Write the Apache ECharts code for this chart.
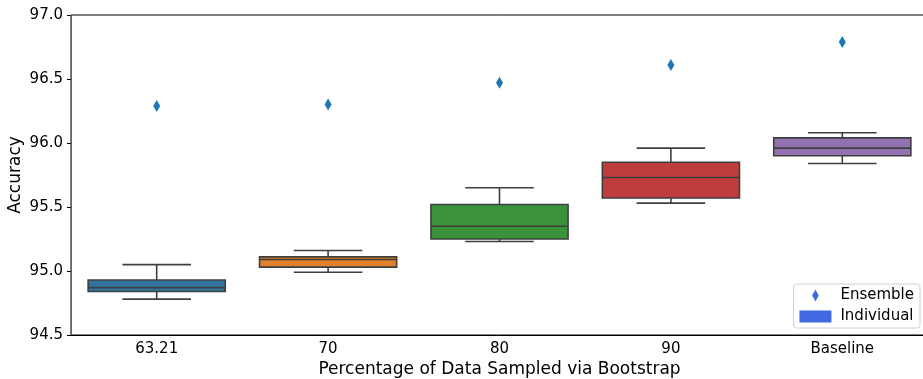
<!DOCTYPE html>
<html>
<head>
<meta charset="utf-8">
<script src="https://cdn.jsdelivr.net/npm/echarts@6/dist/echarts.min.js"></script>
<style>
  html, body { margin: 0; padding: 0; background: #fff; }
  #chart { width: 923px; height: 379px; }
</style>
</head>
<body>
<div id="chart"></div>
<script>
// Sampling fractions on the x axis
const categories = ['63.21', '70', '80', '90', 'Baseline'];

// Individual model accuracies: five-number summaries per category
const whiskerLow  = [94.78, 94.99, 95.23, 95.53, 95.84];
const boxLow      = [94.84, 95.03, 95.25, 95.57, 95.90];
const medians     = [94.87, 95.09, 95.35, 95.73, 95.96];
const boxHigh     = [94.93, 95.11, 95.52, 95.85, 96.04];
const whiskerHigh = [95.05, 95.16, 95.65, 95.96, 96.08];

// Ensemble accuracy per category
const ensemble = [96.29, 96.30, 96.47, 96.61, 96.79];

const yTicks = [94.5, 95.0, 95.5, 96.0, 96.5, 97.0];

const boxColors = ['#3274a1', '#e1812c', '#3a923a', '#c03d3e', '#9372b2'];
const edge = '#3f3f3f';
const legendBlue = '#4169e1';
const diamond = 'path://M0,-1 L0.55,0 L0,1 L-0.55,0 Z';

const boxData = categories.map((c, i) =>
  [i, whiskerLow[i], boxLow[i], medians[i], boxHigh[i], whiskerHigh[i]]);

function renderBox(params, api) {
  const i = api.value(0);
  const band = api.size([1, 0])[0];
  const half = band * 0.4;
  const cap = band * 0.2;
  const cx = api.coord([i, 0])[0];
  const y = k => api.coord([i, api.value(k)])[1];
  const yMin = y(1), yQ1 = y(2), yMed = y(3), yQ3 = y(4), yMax = y(5);
  const line = { stroke: edge, lineWidth: 1.6 };
  return {
    type: 'group',
    children: [
      { type: 'line', shape: { x1: cx, y1: yQ3, x2: cx, y2: yMax }, style: line },
      { type: 'line', shape: { x1: cx, y1: yQ1, x2: cx, y2: yMin }, style: line },
      { type: 'line', shape: { x1: cx - cap, y1: yMax, x2: cx + cap, y2: yMax }, style: line },
      { type: 'line', shape: { x1: cx - cap, y1: yMin, x2: cx + cap, y2: yMin }, style: line },
      { type: 'rect', shape: { x: cx - half, y: yQ3, width: half * 2, height: yQ1 - yQ3 },
        style: { fill: boxColors[i], stroke: edge, lineWidth: 1.6 } },
      { type: 'line', shape: { x1: cx - half, y1: yMed, x2: cx + half, y2: yMed }, style: line }
    ]
  };
}

const font = 'DejaVu Sans';
const chart = echarts.init(document.getElementById('chart'), null, { renderer: 'canvas' });
chart.setOption({
  animation: false,
  textStyle: { fontFamily: font },
  grid: {
    left: 71, top: 15, width: 857, height: 320,
    outerBoundsMode: 'none', containLabel: false,
    show: true, borderColor: '#000', borderWidth: 1
  },
  legend: {
    orient: 'vertical',
    right: 3,
    bottom: 51,
    itemGap: 6,
    itemWidth: 32,
    itemHeight: 12,
    padding: [4, 6, 4, 6],
    borderColor: '#d0d0d0',
    borderWidth: 1,
    borderRadius: 3,
    backgroundColor: 'rgba(255,255,255,0.8)',
    textStyle: { fontFamily: font, fontSize: 15, color: '#000', padding: [0, 0, 0, 4] },
    data: [
      { name: 'Ensemble', icon: diamond, itemStyle: { color: legendBlue } },
      { name: 'Individual', icon: 'rect', itemStyle: { color: legendBlue } }
    ]
  },
  xAxis: {
    type: 'category',
    data: categories,
    name: 'Percentage of Data Sampled via Bootstrap',
    nameLocation: 'middle',
    nameGap: 26,
    nameMoveOverlap: false,
    nameTextStyle: { fontFamily: font, fontSize: 17, color: '#000' },
    axisLine: { lineStyle: { color: '#000', width: 1 } },
    axisTick: { alignWithLabel: true, length: 4, lineStyle: { color: '#000' } },
    axisLabel: { fontFamily: font, fontSize: 15, color: '#000', margin: 7 },
    splitLine: { show: false }
  },
  yAxis: {
    type: 'value',
    min: 94.5,
    max: 97.0,
    interval: 0.5,
    name: 'Accuracy',
    nameLocation: 'middle',
    nameGap: 47,
    nameMoveOverlap: false,
    nameTextStyle: { fontFamily: font, fontSize: 17, color: '#000' },
    axisLine: { show: true, lineStyle: { color: '#666', width: 1 } },
    axisTick: { show: true, length: 4, lineStyle: { color: '#000' } },
    axisLabel: {
      fontFamily: font, fontSize: 15, color: '#000', margin: 8,
      formatter: v => (yTicks.includes(Math.round(v * 10) / 10) ? v.toFixed(1) : '')
    },
    splitLine: { show: false }
  },
  series: [
    {
      name: 'Individual',
      type: 'custom',
      renderItem: renderBox,
      itemStyle: { color: legendBlue },
      encode: { x: 0, y: [1, 2, 3, 4, 5] },
      data: boxData,
      z: 2
    },
    {
      name: 'Ensemble',
      type: 'scatter',
      symbol: diamond,
      symbolSize: [7, 12],
      itemStyle: { color: '#1f77b4', opacity: 1 },
      data: ensemble.map((v, i) => [i, v]),
      z: 3
    }
  ]
});
</script>
</body>
</html>
